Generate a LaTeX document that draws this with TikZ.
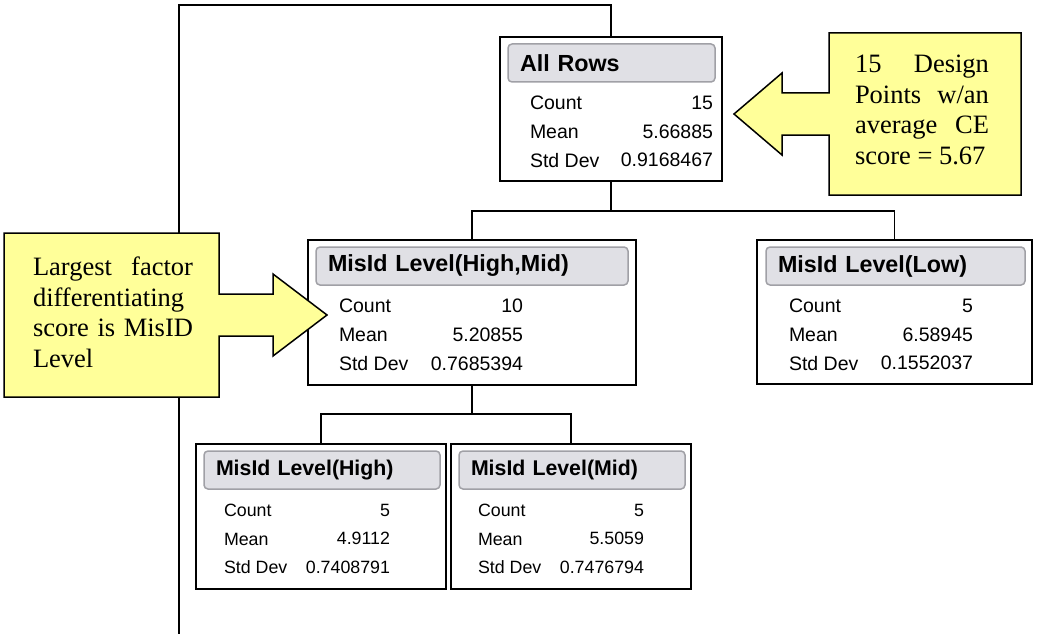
\documentclass[tikz,border=0pt]{standalone}
\usepackage{fontspec}
\setmainfont{Liberation Serif}
\setsansfont{Liberation Sans}
\usetikzlibrary{positioning}

\definecolor{notefill}{RGB}{255,255,153}
\definecolor{headfill}{RGB}{224,224,229}
\definecolor{headline}{RGB}{160,160,166}

\begin{document}
\begin{tikzpicture}[x=1pt,y=1pt,line width=1.5pt,outer sep=0pt,
  split box/.style={draw,anchor=north west,inner sep=0pt},
  head/.style={draw=headline,fill=headfill,rounded corners=4pt,align=left,
    inner xsep=12pt,inner ysep=0pt,minimum height=38pt,
    font={\sffamily\bfseries\fontsize{23.3}{28}\selectfont}},
  small head/.style={head,font={\sffamily\bfseries\fontsize{21.3}{26}\selectfont}},
  stat lab/.style={align=left,inner sep=0pt,font={\sffamily\fontsize{19.5}{28.7}\selectfont}},
  stat val/.style={align=right,inner sep=0pt,font={\sffamily\fontsize{19.5}{28.7}\selectfont}},
  small lab/.style={stat lab,font={\sffamily\fontsize{17.8}{28.7}\selectfont}},
  small val/.style={stat val,font={\sffamily\fontsize{17.8}{28.7}\selectfont}},
  note shape/.style={draw,fill=notefill},
  note/.style={align=justify,inner sep=0pt,anchor=north west,
    font={\rmfamily\fontsize{26.5}{30.5}\selectfont\hyphenpenalty10000\relax\tolerance10000\relax}}]

  \useasboundingbox (0,0) rectangle (1037,-634);

  % boxes of the partition tree
  \node[split box,minimum width=222pt,minimum height=144pt] (ar) at (500,-37) {};
  \node[split box,minimum width=328pt,minimum height=145pt] (hm) at (308,-240) {};
  \node[split box,minimum width=275pt,minimum height=144pt] (lo) at (757,-240) {};
  \node[split box,minimum width=250pt,minimum height=145pt] (hi) at (196,-444) {};
  \node[split box,minimum width=240pt,minimum height=145pt] (mi) at (451,-444) {};

  \node[head,text width=183pt,below right=7pt and 8pt of ar.north west] (arh) {All Rows};
  \node[head,text width=288pt,below right=7pt and 8pt of hm.north west] (hmh) {MisId Level(High,Mid)};
  \node[head,text width=235pt,below right=7pt and 9pt of lo.north west] (loh) {MisId Level(Low)};
  \node[small head,text width=212pt,below right=7pt and 8pt of hi.north west] (hih) {MisId Level(High)};
  \node[small head,text width=202pt,below right=7pt and 8pt of mi.north west] (mih) {MisId Level(Mid)};

  \node[stat lab] (arl) [below right=14pt and 22pt of arh.south west] {Count\\Mean\\Std Dev};
  \node[stat val] (arv) [below left=14pt and 2pt of arh.south east] {15\\5.66885\\0.9168467};
  \node[stat lab] (hml) [below right=14pt and 23pt of hmh.south west] {Count\\Mean\\Std Dev};
  \node[stat val] (hmv) [below left=14pt and 105pt of hmh.south east] {10\\5.20855\\0.7685394};
  \node[stat lab] (lol) [below right=14pt and 23pt of loh.south west] {Count\\Mean\\Std Dev};
  \node[stat val] (lov) [below left=14pt and 52pt of loh.south east] {5\\6.58945\\0.1552037};
  \node[small lab] (hil) [below right=15pt and 20pt of hih.south west] {Count\\Mean\\Std Dev};
  \node[small val] (hiv) [below left=15pt and 50pt of hih.south east] {5\\4.9112\\0.7408791};
  \node[small lab] (mil) [below right=15pt and 19pt of mih.south west] {Count\\Mean\\Std Dev};
  \node[small val] (miv) [below left=15pt and 41pt of mih.south east] {5\\5.5059\\0.7476794};

  % tree lines
  \coordinate (up) at (179,-634);
  \coordinate (top) at (179,-5);
  \draw (up) -- (top) -| (ar.north);
  \draw (ar.south) -- ++(0,-30) -| (hm.north);
  \draw (ar.south) -- ++(0,-30) -| (lo.north);
  \draw (hm.south) -- ++(0,-29) -| (hi.north);
  \draw (hm.south) -- ++(0,-29) -| (mi.north);

  % callouts
  \draw[note shape] (829,-33) -- (1021,-33) -- (1021,-195) -- (829,-195) -- (829,-135)
    -- (782,-135) -- (782,-155) -- (734,-114) -- (782,-73) -- (782,-93) -- (829,-93) -- cycle;
  \draw[note shape] (4,-233) -- (219,-233) -- (219,-294) -- (273,-294) -- (273,-274)
    -- (327,-315) -- (273,-356) -- (273,-336) -- (219,-336) -- (219,-397) -- (4,-397) -- cycle;

  \node[note,text width=134pt] (ptnote) at (855,-55) {15 Design Points w/an average CE score = 5.67};
  \node[note,text width=160pt] (misnote) at (33,-257) {Largest factor differentiating score is MisID Level};

\end{tikzpicture}
\end{document}
